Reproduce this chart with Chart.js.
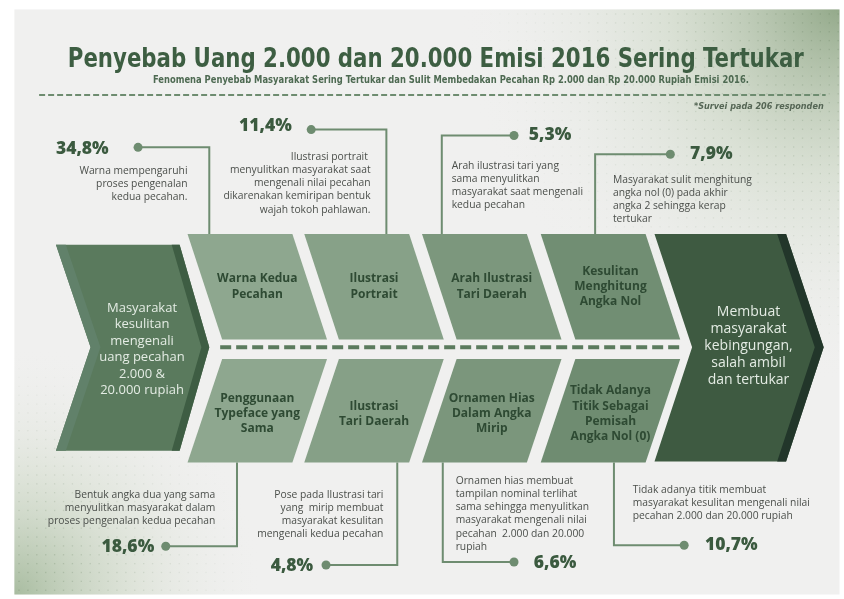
<!DOCTYPE html>
<html>
<head>
<meta charset="utf-8">
<script src="https://cdn.jsdelivr.net/npm/chart.js@4.4.1/dist/chart.umd.min.js"></script>
<style>
  html, body { margin: 0; padding: 0; background: #fff; }
  canvas { display: block; }
</style>
</head>
<body>
<canvas id="fishbone" width="844" height="599"></canvas>
<script>
// ---- data ----
const title = 'Penyebab Uang 2.000 dan 20.000 Emisi 2016 Sering Tertukar';
const subtitle = 'Fenomena Penyebab Masyarakat Sering Tertukar dan Sulit Membedakan Pecahan Rp 2.000 dan Rp 20.000 Rupiah Emisi 2016.';
const surveyNote = '*Survei pada 206 responden';

const problem = ['Masyarakat', 'kesulitan', 'mengenali', 'uang pecahan', '2.000 &', '20.000 rupiah'];
const effect = ['Membuat', 'masyarakat', 'kebingungan,', 'salah ambil', 'dan tertukar'];

// top row first (left to right), then bottom row
const causes = [
  ['Warna Kedua', 'Pecahan'],
  ['Ilustrasi', 'Portrait'],
  ['Arah Ilustrasi', 'Tari Daerah'],
  ['Kesulitan', 'Menghitung', 'Angka Nol'],
  ['Penggunaan', 'Typeface yang', 'Sama'],
  ['Ilustrasi', 'Tari Daerah'],
  ['Ornamen Hias', 'Dalam Angka', 'Mirip'],
  ['Tidak Adanya', 'Titik Sebagai', 'Pemisah', 'Angka Nol (0)']
];
const percents = [34.8, 11.4, 5.3, 7.9, 18.6, 4.8, 6.6, 10.7];
const notes = [
  ['Warna mempengaruhi', 'proses pengenalan', 'kedua pecahan.'],
  ['Ilustrasi portrait ', 'menyulitkan masyarakat saat', 'mengenali nilai pecahan', 'dikarenakan kemiripan bentuk', 'wajah tokoh pahlawan.'],
  ['Arah ilustrasi tari yang', 'sama menyulitkan', 'masyarakat saat mengenali', 'kedua pecahan'],
  ['Masyarakat sulit menghitung', 'angka nol (0) pada akhir', 'angka 2 sehingga kerap', 'tertukar'],
  ['Bentuk angka dua yang sama', 'menyulitkan masyarakat dalam', 'proses pengenalan kedua pecahan'],
  ['Pose pada Ilustrasi tari', 'yang  mirip membuat', 'masyarakat kesulitan', 'mengenali kedua pecahan'],
  ['Ornamen hias membuat', 'tampilan nominal terlihat', 'sama sehingga menyulitkan', 'masyarakat mengenali nilai', 'pecahan  2.000 dan 20.000', 'rupiah'],
  ['Tidak adanya titik membuat', 'masyarakat kesulitan mengenali nilai', 'pecahan 2.000 dan 20.000 rupiah']
];

// ---- layout (diagram units = page pixels) ----
const colLeft = [185, 303, 422, 542];   // left x of the un-shifted edge
const colWidth = 106;
const slant = 35;
const topRow = [233, 340];
const bottomRow = [360, 465];
const boxColors = ['#8ea78f', '#87a188', '#7c977d', '#718e73', '#8ea78f', '#86a087', '#7b967c', '#6f8c71'];
// leader: dot, stem x, box edge y, percent text [x, y, align], note [x, y, align]
const leaders = [
  { dot: [135, 145], stem: 207, edge: 233, pct: [52, 147, 'left'], note: [185, 169, 'right'] },
  { dot: [310, 127], stem: 386, edge: 233, pct: [237, 123, 'left'], note: [370, 155, 'right'] },
  { dot: [515, 133], stem: 442, edge: 233, pct: [530, 133, 'left'], note: [452, 164, 'left'] },
  { dot: [673, 152], stem: 597, edge: 233, pct: [693, 152, 'left'], note: [615, 178, 'left'] },
  { dot: [163, 550], stem: 235, edge: 465, pct: [98, 551, 'left'], note: [213, 498, 'right'] },
  { dot: [325, 569], stem: 397, edge: 465, pct: [269, 570, 'left'], note: [383, 498, 'right'] },
  { dot: [515, 566], stem: 443, edge: 465, pct: [535, 567, 'left'], note: [456, 484, 'left'] },
  { dot: [687, 549], stem: 616, edge: 465, pct: [708, 549, 'left'], note: [635, 493, 'left'] }
];

const DARK = '#3b5a3f';
const LEADER = '#6e8c70';
const BODY = '"Open Sans", "DejaVu Sans", sans-serif';
const NARROW = '"Liberation Sans Narrow", "DejaVu Sans Condensed", sans-serif';

function fmtPct(v) { return v.toFixed(1).replace('.', ',') + '%'; }

function fitText(ctx, text, x, y, width) {
  const w = ctx.measureText(text).width;
  ctx.save();
  ctx.translate(x, y);
  ctx.scale(width / w, 1);
  ctx.textAlign = 'left';
  ctx.fillText(text, 0, 0);
  ctx.restore();
}

const fishbonePlugin = {
  id: 'fishbone',
  beforeDatasetsDraw(chart) {
    const ctx = chart.ctx;
    const xs = chart.scales.x, ys = chart.scales.y;
    const X = v => xs.getPixelForValue(v);
    const Y = v => ys.getPixelForValue(v);
    const poly = (pts, color) => {
      ctx.beginPath();
      pts.forEach((p, i) => i ? ctx.lineTo(X(p[0]), Y(p[1])) : ctx.moveTo(X(p[0]), Y(p[1])));
      ctx.closePath();
      ctx.fillStyle = color;
      ctx.fill();
    };

    // background panel
    ctx.save();
    ctx.fillStyle = '#ffffff';
    ctx.fillRect(0, 0, chart.width, chart.height);
    ctx.fillStyle = '#f0f0ef';
    ctx.fillRect(X(10), Y(5), X(844) - X(10), Y(599) - Y(5));
    let g = ctx.createRadialGradient(X(844), Y(0), 0, X(844), Y(0), 380);
    g.addColorStop(0, 'rgba(135,160,125,0.9)');
    g.addColorStop(0.45, 'rgba(190,205,180,0.45)');
    g.addColorStop(1, 'rgba(240,240,239,0)');
    ctx.fillStyle = g;
    ctx.fillRect(X(10), Y(5), X(844) - X(10), Y(599) - Y(5));
    g = ctx.createRadialGradient(X(10), Y(599), 0, X(10), Y(599), 250);
    g.addColorStop(0, 'rgba(150,175,140,0.8)');
    g.addColorStop(0.5, 'rgba(200,212,190,0.4)');
    g.addColorStop(1, 'rgba(240,240,239,0)');
    ctx.fillStyle = g;
    ctx.fillRect(X(10), Y(5), X(844) - X(10), Y(599) - Y(5));
    // dot texture in the corners
    for (let px = 14; px < 844; px += 9) {
      for (let py = 9; py < 599; py += 9) {
        const d1 = Math.hypot(844 - px, py) / 380;
        const d2 = Math.hypot(px - 10, 599 - py) / 250;
        const a = Math.max(0, 1 - Math.min(d1, d2)) * 0.35;
        if (a <= 0.01) continue;
        ctx.fillStyle = 'rgba(110,135,105,' + a.toFixed(3) + ')';
        ctx.fillRect(X(px), Y(py), 1.3, 1.3);
      }
    }
    ctx.restore();

    // header
    ctx.save();
    ctx.fillStyle = '#3d5e42';
    ctx.textBaseline = 'alphabetic';
    ctx.font = 'bold 27px ' + NARROW;
    fitText(ctx, title, X(64), Y(63), 736);
    ctx.fillStyle = '#4e6a52';
    ctx.font = 'bold 10.5px ' + NARROW;
    fitText(ctx, subtitle, X(150), Y(80), 596);
    ctx.strokeStyle = '#6e8c70';
    ctx.lineWidth = 2;
    ctx.setLineDash([6, 3]);
    ctx.beginPath();
    ctx.moveTo(X(35), Y(92));
    ctx.lineTo(X(830), Y(92));
    ctx.stroke();
    ctx.setLineDash([]);
    ctx.fillStyle = '#556655';
    ctx.font = 'italic bold 9px ' + NARROW;
    ctx.textAlign = 'right';
    ctx.fillText(surveyNote, X(828), Y(106));
    ctx.restore();

    // head (problem) chevron on the left
    poly([[52, 244], [177, 244], [207, 348], [177, 453], [52, 453], [87, 348]], '#5a7a5d');
    poly([[52, 244], [62, 244], [97, 348], [62, 453], [52, 453], [87, 348]], '#61816a');
    poly([[169, 244], [177, 244], [207, 348], [177, 453], [169, 453], [199, 348]], '#3e5d43');

    // effect chevron on the right
    poly([[657, 233], [790, 233], [828, 348], [790, 464], [657, 464], [695, 348]], '#3e5a41');
    poly([[781, 233], [790, 233], [828, 348], [790, 464], [781, 464], [819, 348]], '#22362a');

    // cause boxes
    causes.forEach((lines, i) => {
      const c = i % 4;
      const top = i < 4;
      const [y0, y1] = top ? topRow : bottomRow;
      const l = colLeft[c];
      const pts = top
        ? [[l, y0], [l + colWidth, y0], [l + colWidth + slant, y1], [l + slant, y1]]
        : [[l + slant, y0], [l + colWidth + slant, y0], [l + colWidth, y1], [l, y1]];
      poly(pts, boxColors[i]);
      const cx = l + (colWidth + slant) / 2;
      const cy = (y0 + y1) / 2 + (top ? 0 : 3);
      ctx.save();
      ctx.fillStyle = '#2e4a33';
      ctx.font = 'bold 12px ' + BODY;
      ctx.textAlign = 'center';
      ctx.textBaseline = 'middle';
      const step = 15.5;
      lines.forEach((t, k) => {
        ctx.fillText(t, X(cx), Y(cy + (k - (lines.length - 1) / 2) * step));
      });
      ctx.restore();
    });

    // spine
    ctx.save();
    ctx.strokeStyle = '#5b7b5e';
    ctx.lineWidth = 4;
    ctx.setLineDash([11, 5]);
    ctx.beginPath();
    ctx.moveTo(X(218), Y(348));
    ctx.lineTo(X(682), Y(348));
    ctx.stroke();
    ctx.restore();

    // chevron texts
    ctx.save();
    ctx.textAlign = 'center';
    ctx.textBaseline = 'middle';
    ctx.fillStyle = '#e4ece4';
    ctx.font = '13px ' + BODY;
    problem.forEach((t, k) => ctx.fillText(t, X(139), Y(308 + k * 16.8)));
    ctx.font = '14px ' + BODY;
    effect.forEach((t, k) => ctx.fillText(t, X(752), Y(312 + k * 17.2)));
    ctx.restore();

    // leader lines, percentages and notes
    leaders.forEach((ld, i) => {
      ctx.save();
      ctx.strokeStyle = LEADER;
      ctx.lineWidth = 2;
      ctx.beginPath();
      ctx.moveTo(X(ld.dot[0]), Y(ld.dot[1]));
      ctx.lineTo(X(ld.stem), Y(ld.dot[1]));
      ctx.lineTo(X(ld.stem), Y(ld.edge));
      ctx.stroke();

      ctx.fillStyle = DARK;
      ctx.font = '800 17.5px ' + BODY;
      ctx.textBaseline = 'middle';
      ctx.textAlign = ld.pct[2];
      ctx.fillText(fmtPct(percents[i]), X(ld.pct[0]), Y(ld.pct[1]));

      ctx.fillStyle = '#4b4f4b';
      ctx.font = '10.3px ' + BODY;
      ctx.textAlign = ld.note[2];
      notes[i].forEach((t, k) => ctx.fillText(t, X(ld.note[0]), Y(ld.note[1] + k * 13.3)));
      ctx.restore();
    });
  }
};

new Chart(document.getElementById('fishbone'), {
  type: 'scatter',
  data: {
    datasets: [{
      label: 'leader dots',
      data: leaders.map(ld => ({ x: ld.dot[0], y: ld.dot[1] })),
      pointRadius: 4.5,
      pointHoverRadius: 4.5,
      backgroundColor: LEADER,
      borderWidth: 0
    }]
  },
  options: {
    responsive: false,
    animation: false,
    devicePixelRatio: 1,
    layout: { padding: 0 },
    plugins: { legend: { display: false }, tooltip: { enabled: false } },
    scales: {
      x: { type: 'linear', min: 0, max: 844, display: false },
      y: { type: 'linear', min: 0, max: 599, reverse: true, display: false }
    }
  },
  plugins: [fishbonePlugin]
});
</script>
</body>
</html>
